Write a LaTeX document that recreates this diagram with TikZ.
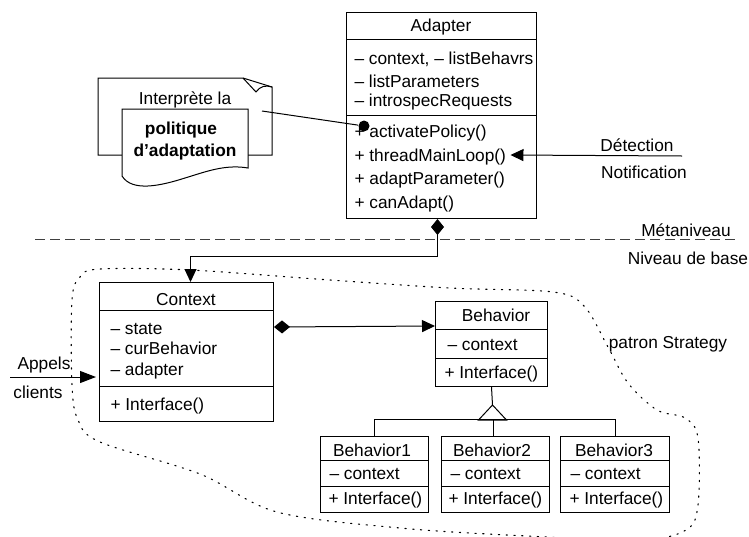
\documentclass[tikz,border=0pt]{standalone}
\usepackage{fontspec}
\setmainfont{Liberation Sans}
\usetikzlibrary{arrows.meta,calc}
\begin{document}
\begin{tikzpicture}[x=1pt,y=-1pt,line width=1pt,
  font=\fontsize{17.3}{20}\selectfont,
  box/.style={draw, inner sep=0pt, anchor=north west},
  lbl/.style={inner sep=0pt, text height=12.3pt, text depth=0pt},
  lw/.style={lbl, anchor=west},
  tip/.style={-{Triangle[length=13pt,width=12pt]}},
  comp/.style={{Diamond[length=16pt,width=13pt]}-{Triangle[length=13pt,width=12pt]}},
  bound/.style={dash pattern=on 1.3pt off 6.5pt, line cap=round, line width=1.1pt}
]
\useasboundingbox (0,0) rectangle (749,536);

% ---------- note ----------
\draw (122,155) -- (98,155) -- (98,78) -- (243,78) -- (272,87) -- (272,155) -- (248,155);
\draw (243,78) -- (256,92) .. controls (260,86) and (266,85) .. (272,87);
\draw[fill=white] (122,176) -- (122,109) -- (248,109) -- (248,168)
   .. controls (225,164) and (205,172) .. (185,178)
   .. controls (160,186) and (132,192) .. (122,176);
\node[lbl] (noteA) at (185,98) {Interprète la};
\node[lbl, font=\fontsize{17.3}{20}\selectfont\bfseries] (noteB) at (181,128) {politique};
\node[lbl, font=\fontsize{17.3}{20}\selectfont\bfseries] (noteC) at (185,150) {d’adaptation};
\coordinate (notesrc) at (262,111);

% ---------- Adapter ----------
\node[box, minimum width=190pt, minimum height=206pt] (adapter) at (346,12) {};
\draw (346,39) -- (536,39) (346,115) -- (536,115);
\node[lbl] (adT) at (441,25) {Adapter};
\node[lw] (ada1) at (354,58) {– context, – listBehavrs};
\node[lw] (ada2) at (354,81) {– listParameters};
\node[lw] (ada3) at (354,100) {– introspecRequests};
\node[lw] (adm1) at (354,131) {+ activatePolicy()};
\node[lw] (adm2) at (354,155) {+ threadMainLoop()};
\node[lw] (adm3) at (354,178) {+ adaptParameter()};
\node[lw] (adm4) at (354,202) {+ canAdapt()};

\node[circle, fill, inner sep=0pt, minimum size=11pt] (dot) at (364,126) {};
\draw (notesrc) -- (dot);

\node[lbl] (det) at (637,145) {Détection};
\node[lbl] (notif) at (644,172) {Notification};
\coordinate (detsrc) at (682,156);
\draw[tip] (detsrc) -- ($(adm2.east)+(4,0)$);

% ---------- levels ----------
\coordinate (dl) at (35,239);
\coordinate (dr) at (735,239);
\draw[dash pattern=on 10pt off 5pt, black!75] (dl) -- (dr);
\node[lbl] (meta) at (686,230) {Métaniveau};
\node[lbl] (base) at (688,258) {Niveau de base};

% ---------- Context ----------
\node[box, minimum width=174pt, minimum height=139pt] (context) at (99,282) {};
\draw (99,310) -- (273,310) (99,386) -- (273,386);
\node[lbl] (ctT) at (186,299) {Context};
\node[lw] (ct1) at (110,328) {– state};
\node[lw] (ct2) at (110,348) {– curBehavior};
\node[lw] (ct3) at (110,369) {– adapter};
\node[lw] (ctm) at (110,404) {+ Interface()};

\draw[comp] ($(adapter.south)+(-4,0)$) -- ++(0,37) -| ($(context.north)+(4,0)$);

% ---------- Behavior ----------
\node[box, minimum width=112pt, minimum height=85pt] (behavior) at (435,301) {};
\draw (435,329) -- (547,329) (435,358) -- (547,358);
\node[lbl] (bhT) at (496,315) {Behavior};
\node[lw] (bh1) at (447,344) {– context};
\node[lw] (bhm) at (444,372) {+ Interface()};

\draw[comp] ($(context.north east)+(0,45)$) -- ($(behavior.north west)+(0,25)$);

% ---------- sub behaviors ----------
\node[box, minimum width=108pt, minimum height=76pt] (b1) at (320,436) {};
\node[box, minimum width=108pt, minimum height=76pt] (b2) at (441,436) {};
\node[box, minimum width=109pt, minimum height=76pt] (b3) at (560,436) {};
\draw (320,460) -- (428,460) (320,486) -- (428,486);
\draw (441,460) -- (549,460) (441,486) -- (549,486);
\draw (560,460) -- (669,460) (560,486) -- (669,486);
\node[lbl] (b1T) at (372,450) {Behavior1};
\node[lw] (b1a) at (329,473) {– context};
\node[lw] (b1m) at (328,498) {+ Interface()};
\node[lbl] (b2T) at (492,450) {Behavior2};
\node[lw] (b2a) at (450,473) {– context};
\node[lw] (b2m) at (448,498) {+ Interface()};
\node[lbl] (b3T) at (614,450) {Behavior3};
\node[lw] (b3a) at (570,473) {– context};
\node[lw] (b3m) at (569,498) {+ Interface()};

\coordinate (apex) at ($(behavior.south)+(1,18)$);
\draw (behavior.south) -- (apex);
\draw (apex) -- ++(-14,15) -- ++(28,0) -- cycle;
\draw (b1.north) -- ++(0,-17) -| (b3.north);
\draw ($(b2.north)+(-2,0)$) -- ++(0,-17);

% ---------- clients ----------
\node[lbl] (app) at (44,363) {Appels};
\node[lbl] (cli) at (38,392) {clients};
\coordinate (appsrc) at (10,377);
\draw[-{Triangle[length=16pt,width=12pt]}] (appsrc) -- ($(context.north west)+(-3,95)$);

% ---------- Strategy boundary ----------
\node[lbl] (strat) at (668,342) {patron Strategy};
\draw[bound] plot[smooth cycle, tension=0.55] coordinates {
  (100,269) (190,270) (330,280) (450,288) (553,292) (584,306) (608,347)
  (628,383) (657,410) (685,418) (698,438) (698,505) (686,530) (640,540)
  (527,536) (400,528) (277,512) (200,474) (100,442) (78,420) (72,385)
  (72,300) (80,277)};
\end{tikzpicture}
\end{document}
